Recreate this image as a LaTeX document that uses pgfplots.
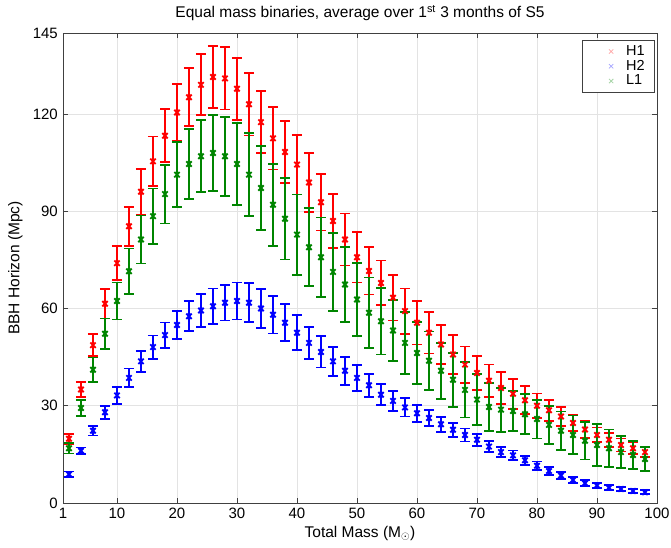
\documentclass[border=0pt]{standalone}
\usepackage{fontspec}
\setmainfont{Liberation Sans}
\usepackage{pgfplots}
\usepackage{pgfplotstable}
\pgfplotsset{compat=1.18}

\definecolor{hred}{rgb}{1,0,0}
\definecolor{hblue}{rgb}{0,0,1}
\definecolor{lgreen}{rgb}{0,0.52,0}

% H1: mass, horizon, error
\pgfplotstableread{
x y e
2 19.8 1.5
4 35.0 2.3
6 48.7 3.4
8 61.5 4.6
10 74.0 5.3
12 85.4 6.0
14 96.0 7.0
16 105.4 7.7
18 113.3 8.2
20 120.5 8.8
22 125.2 9.0
24 129.0 9.4
26 131.4 9.5
28 131.0 9.6
30 127.8 9.6
32 123.0 9.6
34 117.5 9.5
36 112.5 9.6
38 108.3 9.5
40 104.4 9.2
42 98.9 9.1
44 92.8 8.7
46 87.0 8.4
48 81.3 8.0
50 75.8 7.8
52 71.6 7.3
54 67.9 6.9
56 63.3 7.0
58 59.2 7.0
60 55.6 6.7
62 52.5 6.4
64 48.9 6.0
66 45.8 6.0
68 42.7 5.6
70 40.1 5.3
72 37.7 5.0
74 35.5 4.9
76 33.7 4.6
78 31.7 4.3
80 30.0 3.8
82 28.6 3.2
84 26.7 2.9
86 24.7 2.6
88 22.7 2.6
90 21.0 2.3
92 19.5 2.1
94 17.9 2.0
96 16.9 1.8
98 15.7 1.6
}\hone

% H2
\pgfplotstableread{
x y e
2 8.9 0.8
4 16.1 1.0
6 22.3 1.5
8 28.0 2.0
10 33.2 2.6
12 38.6 2.9
14 43.7 3.2
16 48.1 3.6
18 51.8 3.9
20 54.9 4.3
22 57.6 4.6
24 59.4 5.0
26 60.7 5.5
28 61.8 5.5
30 62.3 5.7
32 61.8 6.0
34 60.0 6.0
36 58.1 5.8
38 55.6 5.7
40 52.5 5.4
42 49.4 5.0
44 46.6 4.8
46 43.7 4.4
48 40.8 4.3
50 38.6 4.0
52 36.3 3.6
54 33.4 3.2
56 31.5 3.0
58 29.5 2.8
60 27.7 2.6
62 26.2 2.5
64 24.3 2.3
66 22.6 2.2
68 21.0 2.0
70 19.5 1.9
72 17.4 1.7
74 15.7 1.6
76 14.7 1.5
78 13.2 1.4
80 11.5 1.3
82 9.9 1.2
84 8.5 1.1
86 7.1 1.0
88 6.1 0.9
90 5.4 0.8
92 4.7 0.8
94 4.3 0.7
96 3.7 0.7
98 3.3 0.6
}\htwo

% L1
\pgfplotstableread{
x y e
2 16.9 1.6
4 29.3 2.5
6 41.1 3.8
8 52.2 4.7
10 62.3 5.7
12 71.5 7.0
14 81.3 7.4
16 88.5 8.5
18 95.3 9.1
20 101.3 10.0
22 104.6 10.8
24 107.0 11.1
26 108.0 11.7
28 107.0 12.2
30 104.6 12.7
32 101.3 12.8
34 97.2 12.9
36 92.0 12.6
38 87.7 12.6
40 82.8 12.4
42 78.9 12.0
44 75.8 12.3
46 71.3 12.0
48 67.4 11.5
50 62.8 11.2
52 58.7 10.9
54 56.1 10.3
56 53.2 9.5
58 49.4 9.6
60 46.3 9.5
62 43.9 9.0
64 40.8 8.6
66 38.0 8.4
68 34.9 8.5
70 31.9 7.9
72 29.6 7.3
74 28.8 6.8
76 28.4 6.2
78 27.4 6.2
80 25.9 6.0
82 24.1 5.9
84 22.3 5.9
86 21.0 6.0
88 19.2 5.8
90 17.9 6.4
92 16.9 5.8
94 15.7 5.0
96 14.8 4.3
98 13.6 3.7
}\lone

\pgfplotsset{
  bbh/.style={only marks, mark=x, mark size=3.8pt, line width=1.9pt, #1,
    error bars/.cd, y dir=both, y explicit,
    error bar style={line width=1.8pt, #1},
    error mark options={rotate=90, line width=1.8pt, mark size=5pt, #1}},
  legx/.style={legend image code/.code={%
    \path[draw=none] (0pt,-4pt) rectangle (34pt,4pt);
    \draw[#1, line width=0.8pt] plot[mark=x, mark size=3pt] coordinates {(21pt,0pt)};}},
}

\begin{document}
\fontsize{15}{18}\selectfont
\begin{tikzpicture}
\path[use as bounding box] (-63pt,-44pt) rectangle (608pt,503pt);
\begin{axis}[
  scale only axis, width=594pt, height=470pt,
  xmin=1, xmax=100, ymin=0, ymax=145,
  xtick={1,10,20,30,40,50,60,70,80,90,100},
  ytick={0,30,60,90,120,145},
  grid=major, major grid style={gray!22, line width=0.6pt},
  axis line style={black!75, line width=0.6pt},
  tick style={black!75, line width=0.6pt},
  tick align=inside, major tick length=5pt,
  ticklabel style={font=\fontsize{15}{18}\selectfont},
  /pgf/number format/assume math mode=true,
  label style={font=\fontsize{15.5}{18}\selectfont},
  xlabel style={yshift=3pt},
  title style={font=\fontsize{15.5}{18}\selectfont, at={(0.5,1)}, anchor=south, yshift=1pt},
  title={Equal mass binaries, average over 1\textsuperscript{st} 3 months of S5},
  xlabel={Total Mass (M$_\odot$)},
  ylabel={BBH Horizon (Mpc)},
  legend style={at={(rel axis cs:0.9966,0.985)}, anchor=north east,
    draw=black!75, line width=0.6pt, font=\fontsize{14.5}{16}\selectfont,
    inner xsep=8pt, inner ysep=3pt, row sep=-1.5pt},
  legend cell align=left,
]
\addplot[forget plot, bbh=hred] table[x=x, y=y, y error=e] {\hone};
\addplot[forget plot, bbh=hblue] table[x=x, y=y, y error=e] {\htwo};
\addplot[forget plot, bbh=lgreen] table[x=x, y=y, y error=e] {\lone};
\addlegendimage{legx=hred!35}
\addlegendentry{H1}
\addlegendimage{legx=hblue!35}
\addlegendentry{H2}
\addlegendimage{legx=lgreen!35}
\addlegendentry{L1}
\end{axis}
\end{tikzpicture}
\end{document}
